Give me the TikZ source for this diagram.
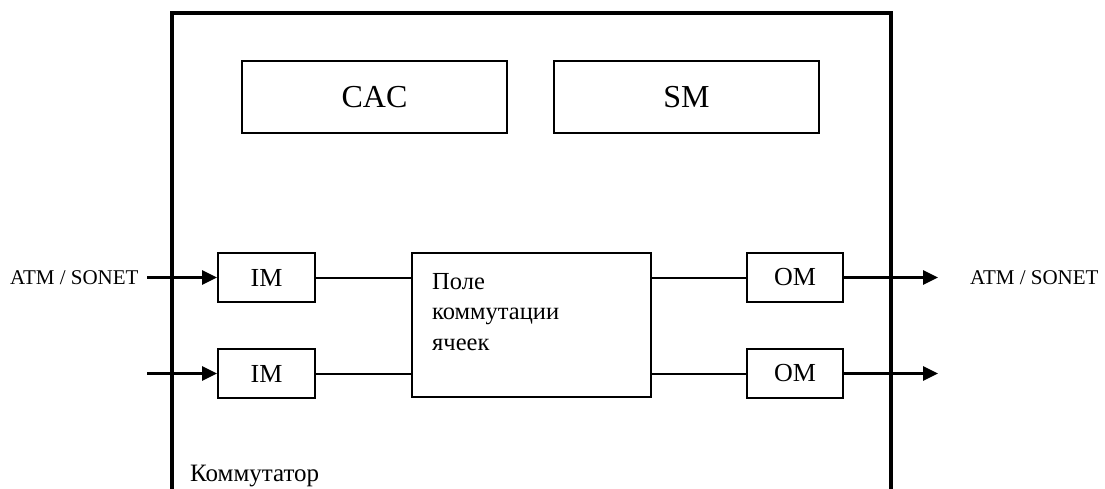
\documentclass[tikz,border=0pt]{standalone}
\usepackage{fontspec}
\setmainfont{Liberation Serif}
\usetikzlibrary{arrows.meta}
\tikzset{
  blk/.style={draw, line width=2pt, minimum width=#1, inner sep=0pt},
  outer/.style={draw, line width=4pt},
  link/.style={line width=2pt},
  sig/.style={line width=3pt, -{Triangle[length=15pt,width=14pt]}},
  lbl/.style={inner sep=0pt, font=\fontsize{21}{25}\selectfont},
}
\begin{document}
\begin{tikzpicture}[x=1pt,y=-1pt]
\useasboundingbox (0,0) rectangle (1105,488);
\clip (0,0) rectangle (1105,488);
% outer switch box (extends below the picture)
\draw[outer] (172,13) rectangle (891,530);
% control blocks
\node[blk=265pt, minimum height=72pt, font=\fontsize{32}{38}\selectfont] (cac) at (374.5,97) {CAC};
\node[blk=265pt, minimum height=72pt, font=\fontsize{32}{38}\selectfont] (sm) at (686.5,97) {SM};
% input / output modules
\node[blk=97pt, minimum height=49pt, font=\fontsize{26}{30}\selectfont] (im1) at (266.5,277.5) {IM};
\node[blk=97pt, minimum height=49pt, font=\fontsize{26}{30}\selectfont] (im2) at (266.5,373.5) {IM};
\node[blk=96pt, minimum height=49pt, font=\fontsize{26}{30}\selectfont] (om1) at (795,277.5) {OM};
\node[blk=96pt, minimum height=49pt, font=\fontsize{26}{30}\selectfont] (om2) at (795,373.5) {OM};
% switching field
\node[blk=239pt, minimum height=144pt] (field) at (531.5,325) {};
\node[anchor=base west, inner sep=0pt, align=left, font=\fontsize{24.5}{30.5}\selectfont] (ftxt) at (432,350) {Поле\\коммутации\\ячеек};
% labels
\node[anchor=base west, inner sep=0pt, font=\fontsize{25}{30}\selectfont] (name) at (190,481) {Коммутатор};
\node[lbl, anchor=base west] (atmin) at (10,284) {ATM / SONET};
\node[lbl, anchor=base west] (atmout) at (970,284) {ATM / SONET};
% free ends
\coordinate (in1) at (147,277.5);
\coordinate (in2) at (147,373.5);
\coordinate (out1) at (938,277.5);
\coordinate (out2) at (938,373.5);
% connectors
\draw[sig] (in1) -- (im1.west);
\draw[sig] (in2) -- (im2.west);
\draw[sig] (om1.east) -- (out1);
\draw[sig] (om2.east) -- (out2);
\draw[link] (im1.east) -- (im1 -| field.west);
\draw[link] (im2.east) -- (im2 -| field.west);
\draw[link] (om1 -| field.east) -- (om1.west);
\draw[link] (om2 -| field.east) -- (om2.west);
\end{tikzpicture}
\end{document}
